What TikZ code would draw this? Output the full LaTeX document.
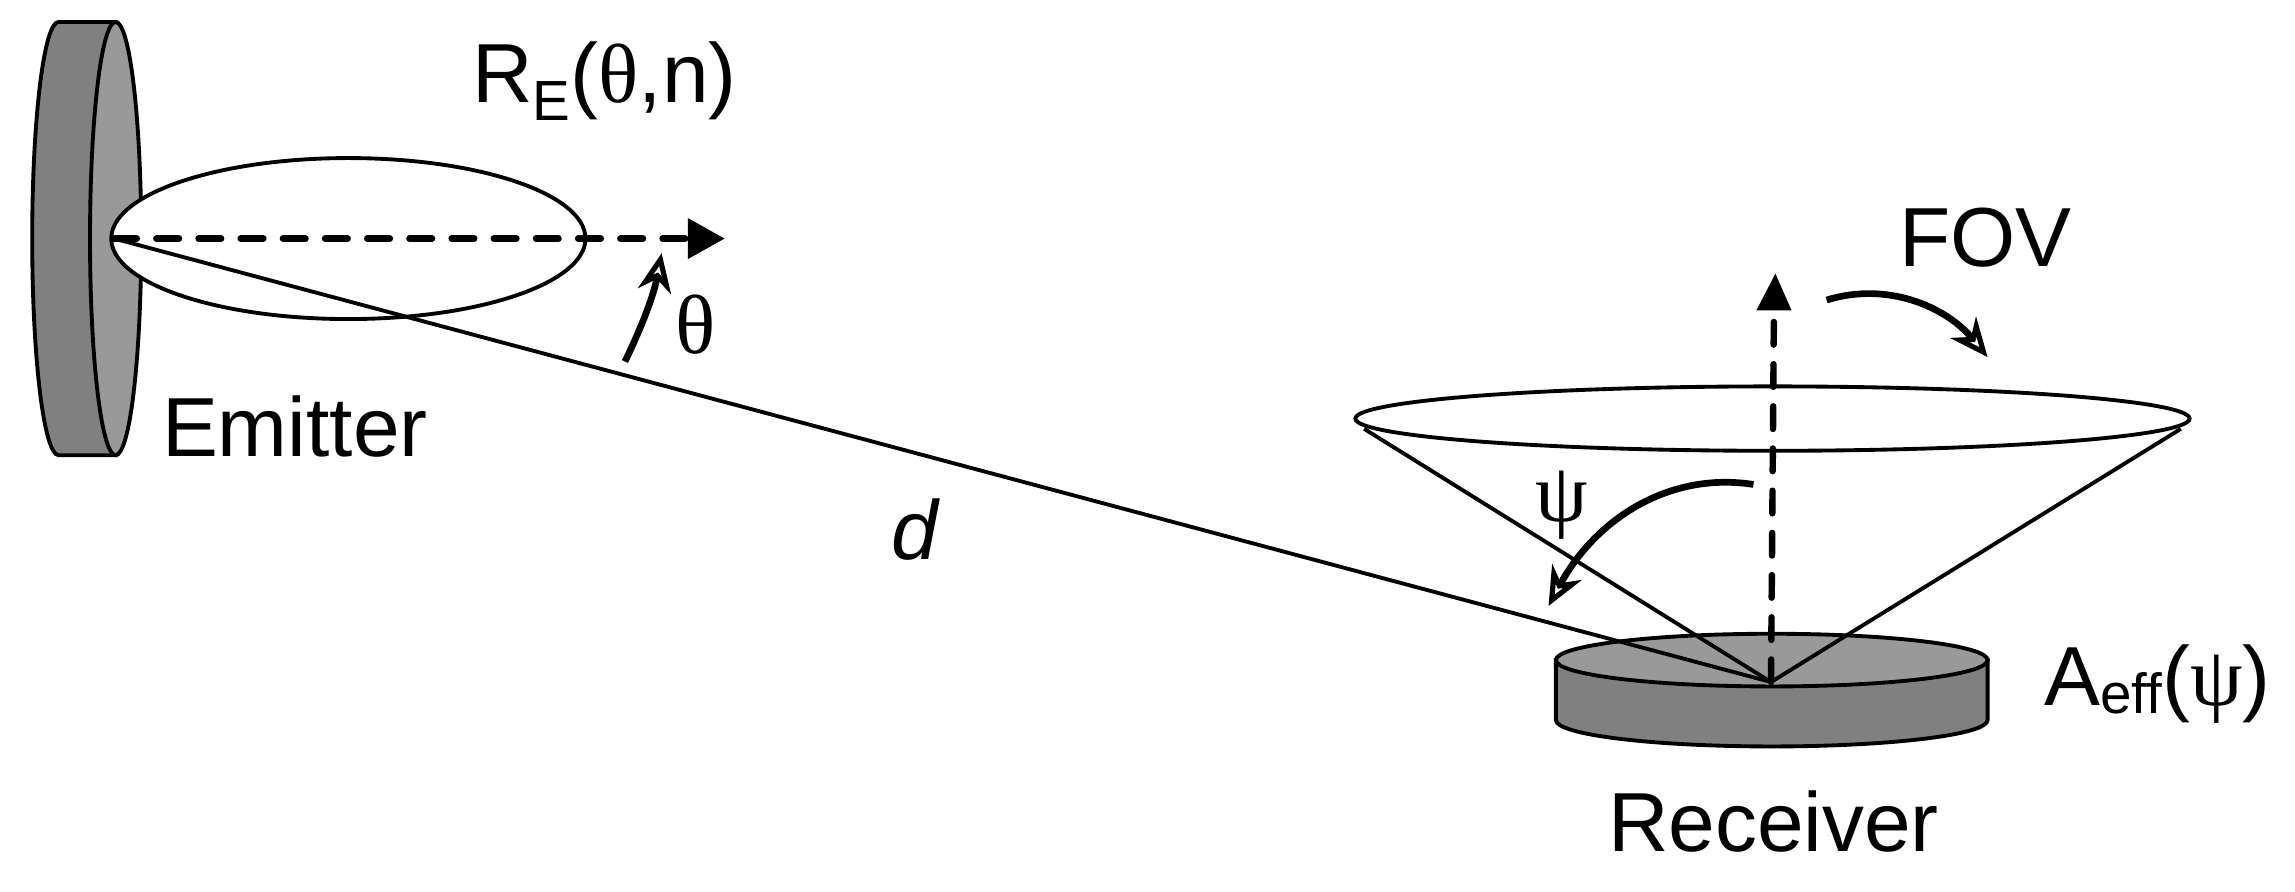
\documentclass[tikz,border=0pt]{standalone}
\usepackage{fontspec}
\setmainfont{Liberation Sans}
\newfontfamily\greekfont{Liberation Serif}
\usetikzlibrary{calc, arrows.meta}
\definecolor{discdark}{HTML}{808080}
\definecolor{disclight}{HTML}{999999}
\tikzset{
  thin line/.style={line width=0.75pt},
  axis line/.style={line width=1.25pt, dash pattern=on 4.4pt off 3.8pt, line cap=round},
  swing/.style={line width=1.3pt, -{Stealth[length=7.5pt, width=6.5pt, fill=white, line width=1pt]}},
  label text/.style={font=\fontsize{16.3}{18}\selectfont, inner sep=0pt},
}
\newcommand{\gr}[1]{{\greekfont #1}}
\begin{document}
\begin{tikzpicture}[x=0.1mm, y=-0.1mm]
\useasboundingbox (0,0) rectangle (1568,609);
\coordinate (E) at (78,163);
\coordinate (Rx) at (1210,466);
% emitter disc
\draw[thin line, fill=discdark] (40,15) arc[start angle=270, end angle=90, x radius=18, y radius=148] -- (79,311) -- (79,15) -- cycle;
\draw[thin line, fill=disclight] (79,163) ellipse[x radius=17.5, y radius=148];
% radiation lobe
\draw[thin line, fill=white] (238,163) ellipse[x radius=162, y radius=55];
\draw[axis line] (E) -- (470,163) coordinate(Etip);
\fill ($(Etip)+(0,-14)$) -- ($(Etip)+(25,0)$) -- ($(Etip)+(0,14)$) -- cycle;
% receiver disc
\draw[thin line, fill=discdark] (1063,451) -- (1063,492) arc[start angle=180, end angle=0, x radius=147.5, y radius=18] -- (1358,451) -- cycle;
\draw[thin line, fill=disclight] (1210.5,451) ellipse[x radius=147.5, y radius=18];
% field of view
\draw[thin line] (1211,286) ellipse[x radius=285, y radius=22];
\draw[thin line] (932,293) -- (Rx) -- (1490,293);
\draw[thin line] (E) -- (Rx);
\draw[axis line] (Rx) -- (1212,212) coordinate(Rtip);
\fill ($(Rtip)+(-12,0)$) -- (1213,187) -- ($(Rtip)+(12,0)$) -- cycle;
% swing arrows
\draw[swing] (427,247) .. controls (440,220) and (447,200) .. (452,173);
\draw[swing] (1248,205) .. controls (1290,192) and (1330,210) .. (1358,244);
\draw[swing] (1198,331) .. controls (1140,322) and (1090,355) .. (1058,414);
% labels
\node[label text, anchor=base west] (lobe) at (322,70) {R\raisebox{-0.22em}{\fontsize{11}{12}\selectfont E}(\gr{θ},n)};
\node[label text, anchor=base west] (emitter) at (110,312) {Emitter};
\node[label text] (theta) at (475,222) {\gr{θ}};
\node[label text] (dist) at (625,362) {\itshape d};
\node[label text, anchor=base west] (fov) at (1297,182) {FOV};
\node[label text] (psi) at (1067,345) {\gr{ψ}};
\node[label text, anchor=base west] (aeff) at (1396,482) {A\raisebox{-0.1em}{\fontsize{11}{12}\selectfont eff}(\gr{ψ})};
\node[label text, anchor=base west] (rec) at (1098,582) {Receiver};
\end{tikzpicture}
\end{document}
